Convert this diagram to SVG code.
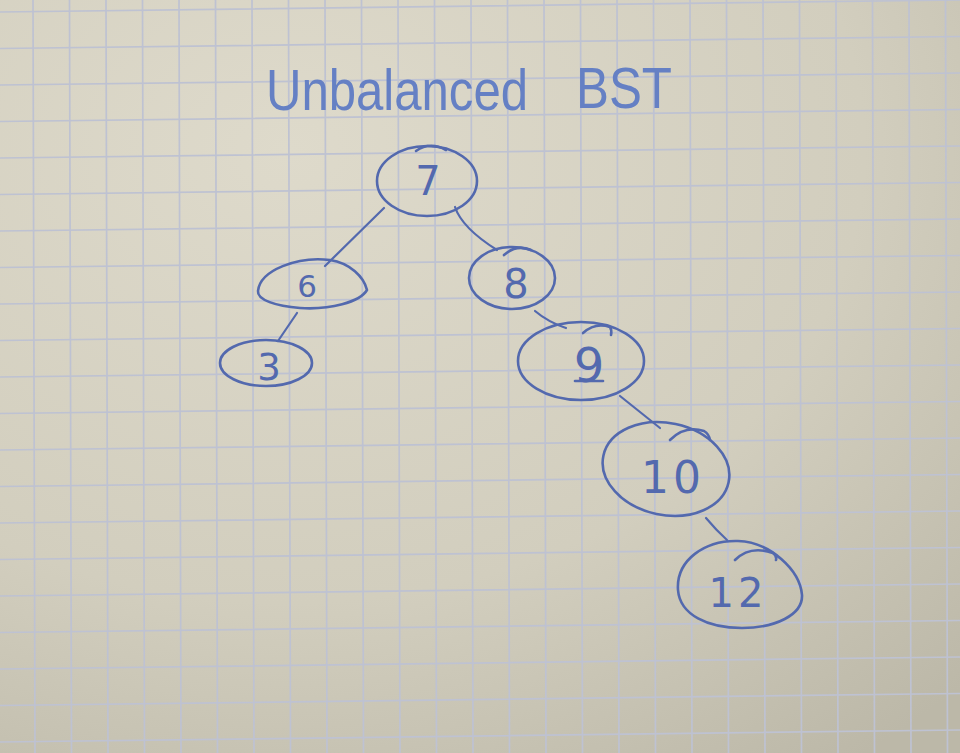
<svg xmlns="http://www.w3.org/2000/svg" width="960" height="753" viewBox="0 0 960 753">
<defs>
<radialGradient id="paper" cx="0.3" cy="0.2" r="1.0">
<stop offset="0" stop-color="#dedacb"/>
<stop offset="0.6" stop-color="#d2cebe"/>
<stop offset="1" stop-color="#bcb8a8"/>
</radialGradient>
<style>
.grid{stroke:#bec2d2;stroke-width:1.7;fill:none}
.node{fill:none;stroke:#5369ae;stroke-width:2.6;stroke-linecap:round;stroke-linejoin:round}
.edge{fill:none;stroke:#5369ae;stroke-width:2.2;stroke-linecap:round}
.lbl{font-family:"DejaVu Sans",sans-serif;fill:#5369ae;text-anchor:middle}
.title{font-family:"Liberation Sans",Arial,sans-serif;fill:#6580c4;font-size:58px}
</style>
</defs>
<rect width="960" height="753" fill="url(#paper)"/>
<g id="grid" class="grid">
<path d="M0,12 L960,0 M0,48.5 L960,36.5 M0,85 L960,73 M0,121.5 L960,109.5 M0,158 L960,146 M0,194.5 L960,182.5 M0,231 L960,219 M0,267.5 L960,255.5 M0,304 L960,292 M0,340.5 L960,328.5 M0,377 L960,365 M0,413.5 L960,401.5 M0,450 L960,438 M0,486.5 L960,474.5 M0,523 L960,511 M0,559.5 L960,547.5 M0,596 L960,584 M0,632.5 L960,620.5 M0,669 L960,657 M0,705.5 L960,693.5 M0,742 L960,730 M0,778.5 L960,766.5"/>
<path d="M-3,0 L-1,753 M33,0 L35,753 M69.5,0 L71.5,753 M106,0 L108,753 M142.5,0 L144.5,753 M179,0 L181,753 M215.5,0 L217.5,753 M252,0 L254,753 M288.5,0 L290.5,753 M325,0 L327,753 M361.5,0 L363.5,753 M398,0 L400,753 M434.5,0 L436.5,753 M471,0 L473,753 M507.5,0 L509.5,753 M544,0 L546,753 M580.5,0 L582.5,753 M617,0 L619,753 M653.5,0 L655.5,753 M690,0 L692,753 M726.5,0 L728.5,753 M763,0 L765,753 M799.5,0 L801.5,753 M836,0 L838,753 M872.5,0 L874.5,753 M909,0 L911,753 M945.5,0 L947.5,753"/>
</g>
<g id="title">
<text class="title" x="266" y="110" textLength="262" lengthAdjust="spacingAndGlyphs">Unbalanced</text>
<text class="title" x="576" y="108" textLength="96" lengthAdjust="spacingAndGlyphs">BST</text>
</g>
<g id="connectors">
<path class="edge" d="M384,208 L325,266"/>
<path class="edge" d="M455,207 Q462,228 497,250"/>
<path class="edge" d="M297,313 L278,341"/>
<path class="edge" d="M535,311 Q548,322 566,328"/>
<path class="edge" d="M620,396 Q640,412 660,428"/>
<path class="edge" d="M706,518 Q716,530 727,540"/>
</g>
<g id="node-7">
<ellipse class="node" cx="427" cy="181" rx="50" ry="35"/>
<path class="node" d="M416,151 Q430,141 446,150"/>
<text class="lbl" x="428" y="195" font-size="40">7</text>
</g>
<g id="node-6">
<path class="node" d="M258,291 C260,270 298,256 330,260 C350,263 364,277 367,290 C360,302 330,310 300,308 C276,306 257,300 258,291 Z"/>
<text class="lbl" x="307" y="297" font-size="31">6</text>
</g>
<g id="node-8">
<ellipse class="node" cx="512" cy="278" rx="43" ry="31"/>
<path class="node" d="M504,255 Q516,244 531,250"/>
<text class="lbl" x="516" y="298" font-size="40">8</text>
</g>
<g id="node-3">
<ellipse class="node" cx="266" cy="363" rx="46" ry="23"/>
<text class="lbl" x="269" y="380" font-size="37">3</text>
</g>
<g id="node-9">
<ellipse class="node" cx="581" cy="361" rx="63" ry="39"/>
<path class="node" d="M583,333 Q595,322 610,327 Q612,330 611,335"/>
<text class="lbl" x="589" y="382" font-size="48">9</text>
<path class="node" d="M575,381 L603,381"/>
</g>
<g id="node-10">
<ellipse class="node" cx="666" cy="469" rx="64" ry="46" transform="rotate(12 666 469)"/>
<path class="node" d="M670,440 Q685,425 704,431 Q709,434 710,440"/>
<text class="lbl" x="673" y="493" font-size="44" letter-spacing="4">10</text>
</g>
<g id="node-12">
<path class="node" d="M678,590 C676,560 705,540 738,541 C770,542 800,570 802,595 C803,615 775,628 742,628 C708,628 680,615 678,590 Z"/>
<path class="node" d="M735,560 Q750,545 773,553 Q777,556 776,560"/>
<text class="lbl" x="738" y="607" font-size="40" letter-spacing="4">12</text>
</g>
</svg>
